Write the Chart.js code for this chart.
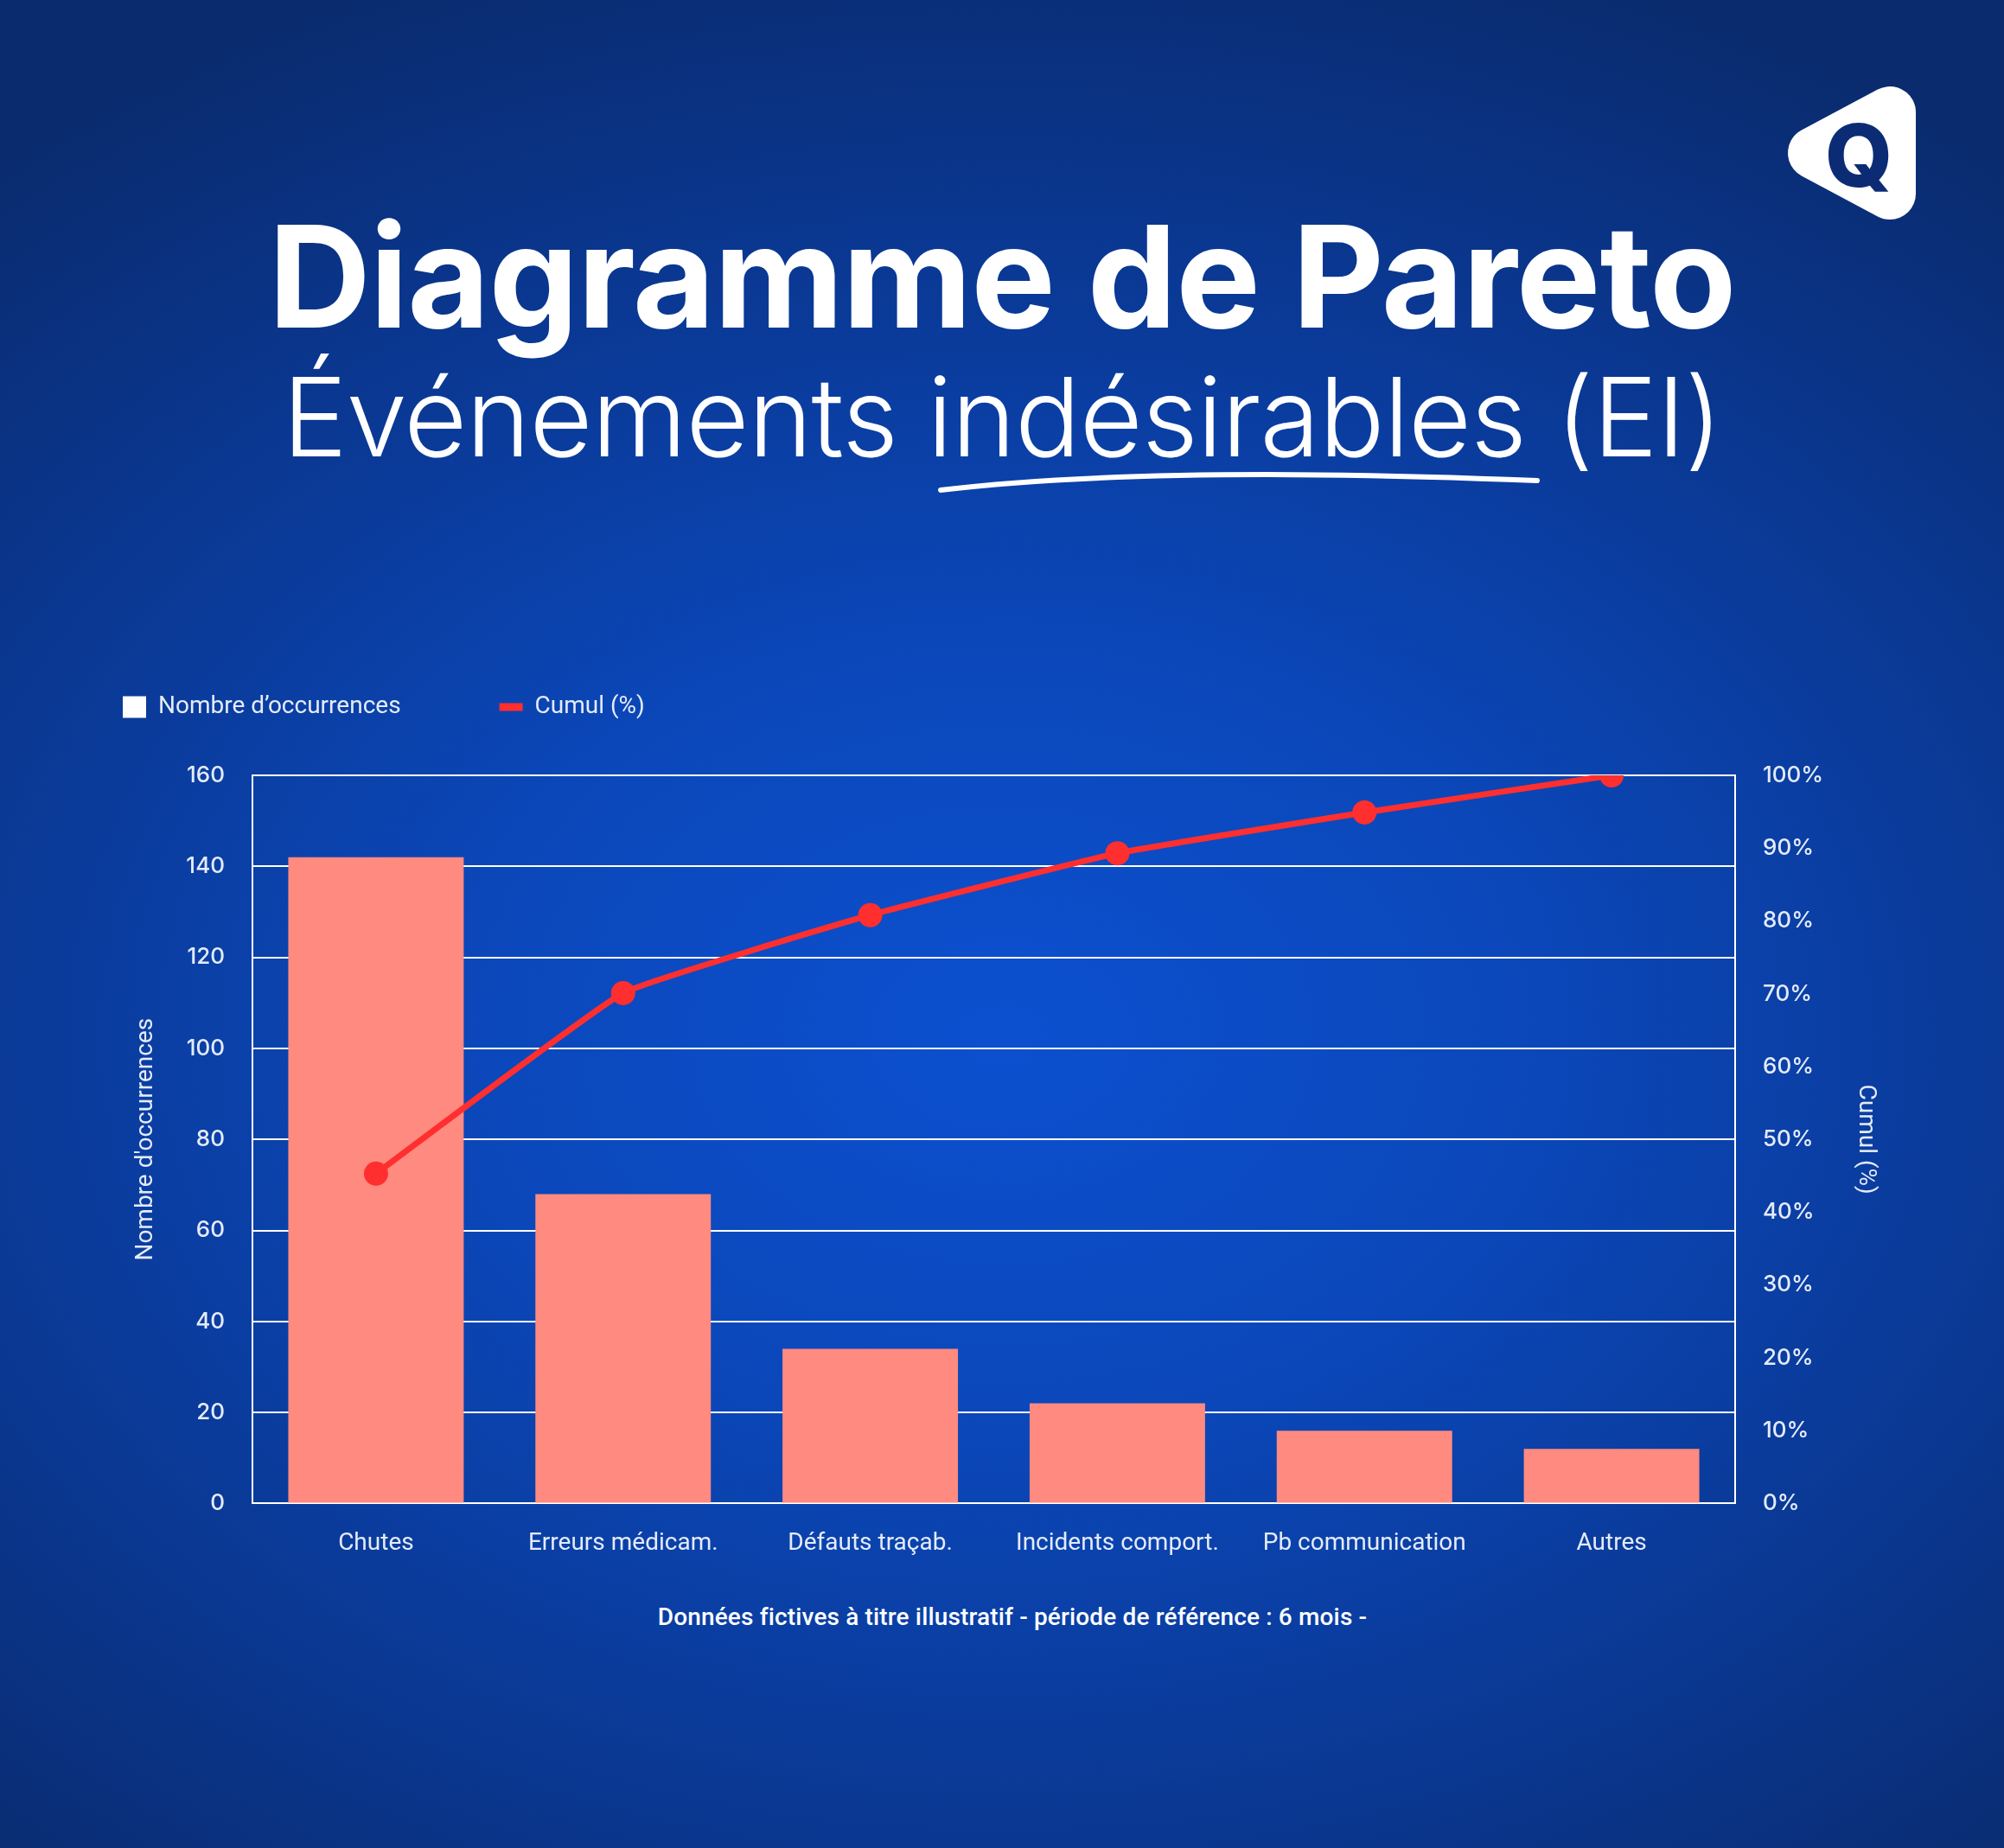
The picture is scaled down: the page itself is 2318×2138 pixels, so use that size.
<!DOCTYPE html>
<html lang="fr">
<head>
<meta charset="utf-8">
<title>Diagramme de Pareto</title>
<script src="https://cdn.jsdelivr.net/npm/chart.js@4.4.1/dist/chart.umd.min.js"></script>
<style>
html, body { margin: 0; padding: 0; }
body {
  width: 2318px; height: 2138px; overflow: hidden; position: relative;
  background: radial-gradient(ellipse 78% 62% at 50% 56%, #0c50d0 0%, #0b47b9 35%, #0a3893 68%, #0a2b6e 100%);
  font-family: Roboto, sans-serif; color: #fff;
}
.title {
  position: absolute; left: 0; width: 100%; top: 238px;
  text-align: center; font-family: Inter, sans-serif; font-weight: 700;
  font-size: 164px; line-height: 1; letter-spacing: -1px;
}
.subtitle {
  position: absolute; left: 0; width: 100%; top: 419px;
  text-align: center; font-family: Inter, sans-serif; font-weight: 300;
  font-size: 126px; line-height: 1; letter-spacing: -1px;
}
.note {
  position: absolute; left: 24px; width: 2294px; top: 1857px;
  text-align: center; font-family: Roboto, sans-serif; font-weight: 500;
  font-size: 28px; line-height: 1; letter-spacing: 0.15px;
}
#deco { position: absolute; left: 0; top: 0; }
#wrap { position: absolute; left: 0; top: 690px; width: 2318px; height: 1143px; }
</style>
</head>
<body>
<svg id="deco" width="2318" height="600">
  <path d="M1088 567 Q1330 538 1778 556" fill="none" stroke="#fff" stroke-width="6" stroke-linecap="round"/>
  <polygon points="2098,177 2186,130 2186,224" fill="#fff" stroke="#fff" stroke-width="60" stroke-linejoin="round"/>
  <text x="2150" y="216" text-anchor="middle" font-family="Inter" font-weight="800" font-size="100" fill="#0b2c75">Q</text>
</svg>
<div class="title">Diagramme de Pareto</div>
<div class="subtitle">Événements indésirables (EI)</div>
<div id="wrap"><canvas id="pareto"></canvas></div>
<div class="note">Données fictives à titre illustratif - période de référence : 6 mois -</div>
<script>
const categories = ['Chutes', 'Erreurs médicam.', 'Défauts traçab.', 'Incidents comport.', 'Pb communication', 'Autres'];
const occurrences = [142, 68, 34, 22, 16, 12];
const cumulPct = [45.3, 70.1, 80.8, 89.3, 94.9, 100];
const seriesNames = ['Nombre d’occurrences', 'Cumul (%)'];
const countTicks = [0, 20, 40, 60, 80, 100, 120, 140, 160];
const pctTicks = [0, 10, 20, 30, 40, 50, 60, 70, 80, 90, 100];

const barColor = '#ff8a80';
const lineColor = '#ff2f2f';
const textColor = '#e4ebf8';

// push the plot area down below the legend
const legendGap = {
  id: 'legendGap',
  beforeInit(chart) {
    const origFit = chart.legend.fit;
    chart.legend.fit = function fit() {
      origFit.bind(chart.legend)();
      this.height += 55;
    };
  }
};

const ctx = document.getElementById('pareto');
new Chart(ctx, {
  data: {
    labels: categories,
    datasets: [
      {
        type: 'bar',
        label: seriesNames[0],
        data: occurrences,
        backgroundColor: barColor,
        yAxisID: 'y',
        barPercentage: 0.71,
        categoryPercentage: 1,
        order: 1
      },
      {
        type: 'line',
        label: seriesNames[1],
        data: cumulPct,
        borderColor: lineColor,
        backgroundColor: lineColor,
        borderWidth: 7,
        pointRadius: 14,
        pointHoverRadius: 14,
        pointBackgroundColor: lineColor,
        pointBorderWidth: 0,
        tension: 0.1,
        yAxisID: 'y1',
        clip: 0,
        order: 0
      }
    ]
  },
  options: {
    responsive: true,
    maintainAspectRatio: false,
    animation: false,
    layout: { padding: { left: 28, right: 130, top: 0, bottom: 0 } },
    plugins: {
      tooltip: { enabled: false },
      legend: {
        position: 'top',
        align: 'start',
        labels: {
          usePointStyle: true,
          pointStyleWidth: 27,
          boxHeight: 25,
          padding: 114,
          color: textColor,
          font: { family: 'Roboto', size: 28 },
          generateLabels: () => [
            { text: seriesNames[0], fillStyle: '#ffffff', strokeStyle: '#ffffff', lineWidth: 0, pointStyle: 'rect', fontColor: textColor, datasetIndex: 0 },
            { text: seriesNames[1], fillStyle: lineColor, strokeStyle: lineColor, lineWidth: 9, pointStyle: 'line', fontColor: textColor, datasetIndex: 1 }
          ]
        }
      }
    },
    scales: {
      x: {
        grid: { display: false, drawTicks: false },
        border: { display: false },
        ticks: { color: textColor, padding: 30, font: { family: 'Roboto', size: 28 } }
      },
      y: {
        position: 'left',
        min: countTicks[0],
        max: countTicks[countTicks.length - 1],
        ticks: {
          stepSize: countTicks[1] - countTicks[0],
          color: textColor,
          padding: 32,
          font: { family: 'Inter', size: 26, weight: '500' }
        },
        grid: { color: '#ffffff', lineWidth: 2, drawTicks: false },
        border: { display: true, color: '#ffffff', width: 2 },
        title: {
          display: true,
          text: "Nombre d'occurrences",
          color: textColor,
          padding: { top: 124, bottom: 0 },
          font: { family: 'Roboto', size: 28 }
        },
        afterFit(scale) { scale.width = 264; }
      },
      y1: {
        position: 'right',
        min: pctTicks[0],
        max: pctTicks[pctTicks.length - 1],
        ticks: {
          stepSize: pctTicks[1] - pctTicks[0],
          color: textColor,
          padding: 32,
          font: { family: 'Inter', size: 26, weight: '500' },
          callback: (v) => v + '%'
        },
        grid: { drawOnChartArea: false, drawTicks: false },
        border: { display: true, color: '#ffffff', width: 2 },
        title: {
          display: true,
          text: 'Cumul (%)',
          color: textColor,
          padding: { top: 13, bottom: 0 },
          font: { family: 'Roboto', size: 28 }
        },
        afterFit(scale) { scale.width = 181; }
      }
    }
  },
  plugins: [legendGap]
});
</script>
</body>
</html>
